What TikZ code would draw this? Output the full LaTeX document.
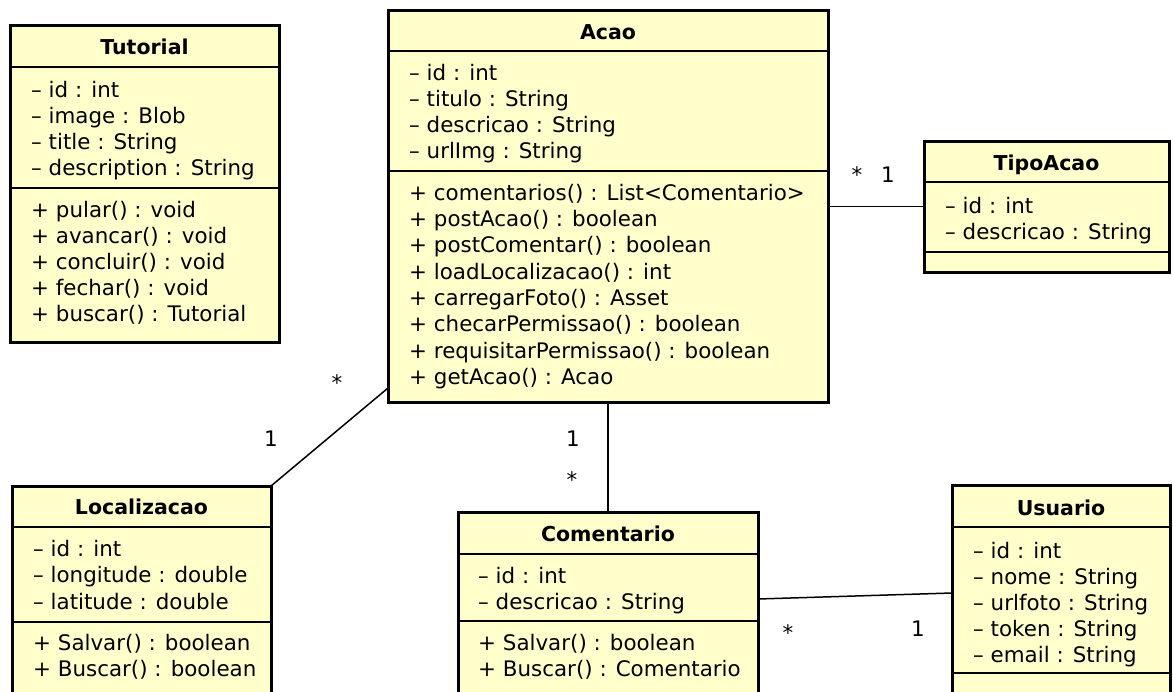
\documentclass[tikz,border=0pt]{standalone}
\usepackage{fontspec}
\setmainfont{DejaVu Sans}
\definecolor{classfill}{RGB}{255,255,204}
\newcommand\memberfont{\fontsize{21.4}{26}\selectfont}
\newcommand\titlefont{\fontsize{20.5}{26}\selectfont\bfseries}
\tikzset{
  classbox/.style={draw=black, line width=3pt, fill=classfill, inner sep=0pt, outer sep=0pt},
  compsep/.style={line width=1.8pt},
  assoc/.style={line width=1.5pt},
  member/.style={anchor=base west, inner sep=0pt, font=\memberfont},
  classtitle/.style={anchor=base, inner sep=0pt, font=\titlefont},
  mult/.style={anchor=base, inner sep=0pt, font=\memberfont},
}
\begin{document}
\begin{tikzpicture}[x=1pt, y=-1pt]
\useasboundingbox (0,0) rectangle (1173,691);
\fill[white] (0,0) rectangle (1173,691);
\clip (0,0) rectangle (1173,691);

% ---------- Tutorial ----------
\node[classbox, minimum width=269pt, minimum height=317pt] (tutorial) at (144.5,183.5) {};
\draw[compsep] (tutorial.west |- 0,67) -- (tutorial.east |- 0,67);
\draw[compsep] (tutorial.west |- 0,188) -- (tutorial.east |- 0,188);
\node[classtitle] (tutorialname) at (144.5,54) {Tutorial};
\foreach \t [count=\i] in {{– id : int},{– image : Blob},{– title : String},{– description : String}}
  \node[member] (tuta\i) at (31,{97+26*(\i-1)}) {\t};
\foreach \t [count=\i] in {{+ pular() : void},{+ avancar() : void},{+ concluir() : void},{+ fechar() : void},{+ buscar() : Tutorial}}
  \node[member] (tutm\i) at (31,{217+26*(\i-1)}) {\t};

% ---------- Acao ----------
\node[classbox, minimum width=440pt, minimum height=392pt] (acao) at (608,206) {};
\draw[compsep] (acao.west |- 0,51) -- (acao.east |- 0,51);
\draw[compsep] (acao.west |- 0,171) -- (acao.east |- 0,171);
\node[classtitle] (acaoname) at (608,39) {Acao};
\foreach \t [count=\i] in {{– id : int},{– titulo : String},{– descricao : String},{– urlImg : String}}
  \node[member] (acaa\i) at (409,{80+26.3*(\i-1)}) {\t};
\foreach \t [count=\i] in {{+ comentarios() : List<Comentario>},{+ postAcao() : boolean},{+ postComentar() : boolean},{+ loadLocalizacao() : int},{+ carregarFoto() : Asset},{+ checarPermissao() : boolean},{+ requisitarPermissao() : boolean},{+ getAcao() : Acao}}
  \node[member] (acam\i) at (409,{200+26.35*(\i-1)}) {\t};

% ---------- TipoAcao ----------
\node[classbox, minimum width=245pt, minimum height=131pt] (tipoacao) at (1046.5,206.5) {};
\draw[compsep] (tipoacao.west |- 0,182) -- (tipoacao.east |- 0,182);
\draw[compsep] (tipoacao.west |- 0,252) -- (tipoacao.east |- 0,252);
\node[classtitle] (tiponame) at (1046.5,170) {TipoAcao};
\foreach \t [count=\i] in {{– id : int},{– descricao : String}}
  \node[member] (tipa\i) at (945,{213+26*(\i-1)}) {\t};

% ---------- Localizacao ----------
\node[classbox, minimum width=259pt, minimum height=234pt] (localizacao) at (141.5,603) {};
\draw[compsep] (localizacao.west |- 0,527) -- (localizacao.east |- 0,527);
\draw[compsep] (localizacao.west |- 0,622) -- (localizacao.east |- 0,622);
\node[classtitle] (locname) at (141.5,514) {Localizacao};
\foreach \t [count=\i] in {{– id : int},{– longitude : double},{– latitude : double}}
  \node[member] (loca\i) at (33,{556+26.5*(\i-1)}) {\t};
\foreach \t [count=\i] in {{+ Salvar() : boolean},{+ Buscar() : boolean}}
  \node[member] (locm\i) at (33,{650+26.5*(\i-1)}) {\t};

% ---------- Comentario ----------
\node[classbox, minimum width=300pt, minimum height=208pt] (comentario) at (608,616) {};
\draw[compsep] (comentario.west |- 0,554) -- (comentario.east |- 0,554);
\draw[compsep] (comentario.west |- 0,621) -- (comentario.east |- 0,621);
\node[classtitle] (comname) at (608,541) {Comentario};
\foreach \t [count=\i] in {{– id : int},{– descricao : String}}
  \node[member] (coma\i) at (478,{583+26*(\i-1)}) {\t};
\foreach \t [count=\i] in {{+ Salvar() : boolean},{+ Buscar() : Comentario}}
  \node[member] (comm\i) at (478,{650+26*(\i-1)}) {\t};

% ---------- Usuario ----------
\node[classbox, minimum width=218pt, minimum height=235pt] (usuario) at (1061,602.5) {};
\draw[compsep] (usuario.west |- 0,527) -- (usuario.east |- 0,527);
\draw[compsep] (usuario.west |- 0,673) -- (usuario.east |- 0,673);
\node[classtitle] (usuname) at (1061,515) {Usuario};
\foreach \t [count=\i] in {{– id : int},{– nome : String},{– urlfoto : String},{– token : String},{– email : String}}
  \node[member] (usua\i) at (973,{558+26.2*(\i-1)}) {\t};

% ---------- Associations ----------
\draw[assoc] (acao.east |- tipoacao.west) -- (tipoacao.west);
\draw[assoc] ([yshift=14pt]acao.south west) -- (localizacao.north east);
\draw[assoc] (acao.south) -- (comentario.north);
\draw[assoc] ([yshift=-87pt]comentario.north east) -- ([yshift=-108pt]usuario.north west);

% multiplicities
\node[mult] (mtipoacao) at (857,182) {*};
\node[mult] (mtipotipo) at (888,182) {1};
\node[mult] (mlocacao) at (337,390) {*};
\node[mult] (mlocloc) at (271,446) {1};
\node[mult] (mcomacao) at (573,446) {1};
\node[mult] (mcomcom) at (572,487) {*};
\node[mult] (musucom) at (788,640) {*};
\node[mult] (musuusu) at (918,636) {1};
\end{tikzpicture}
\end{document}
